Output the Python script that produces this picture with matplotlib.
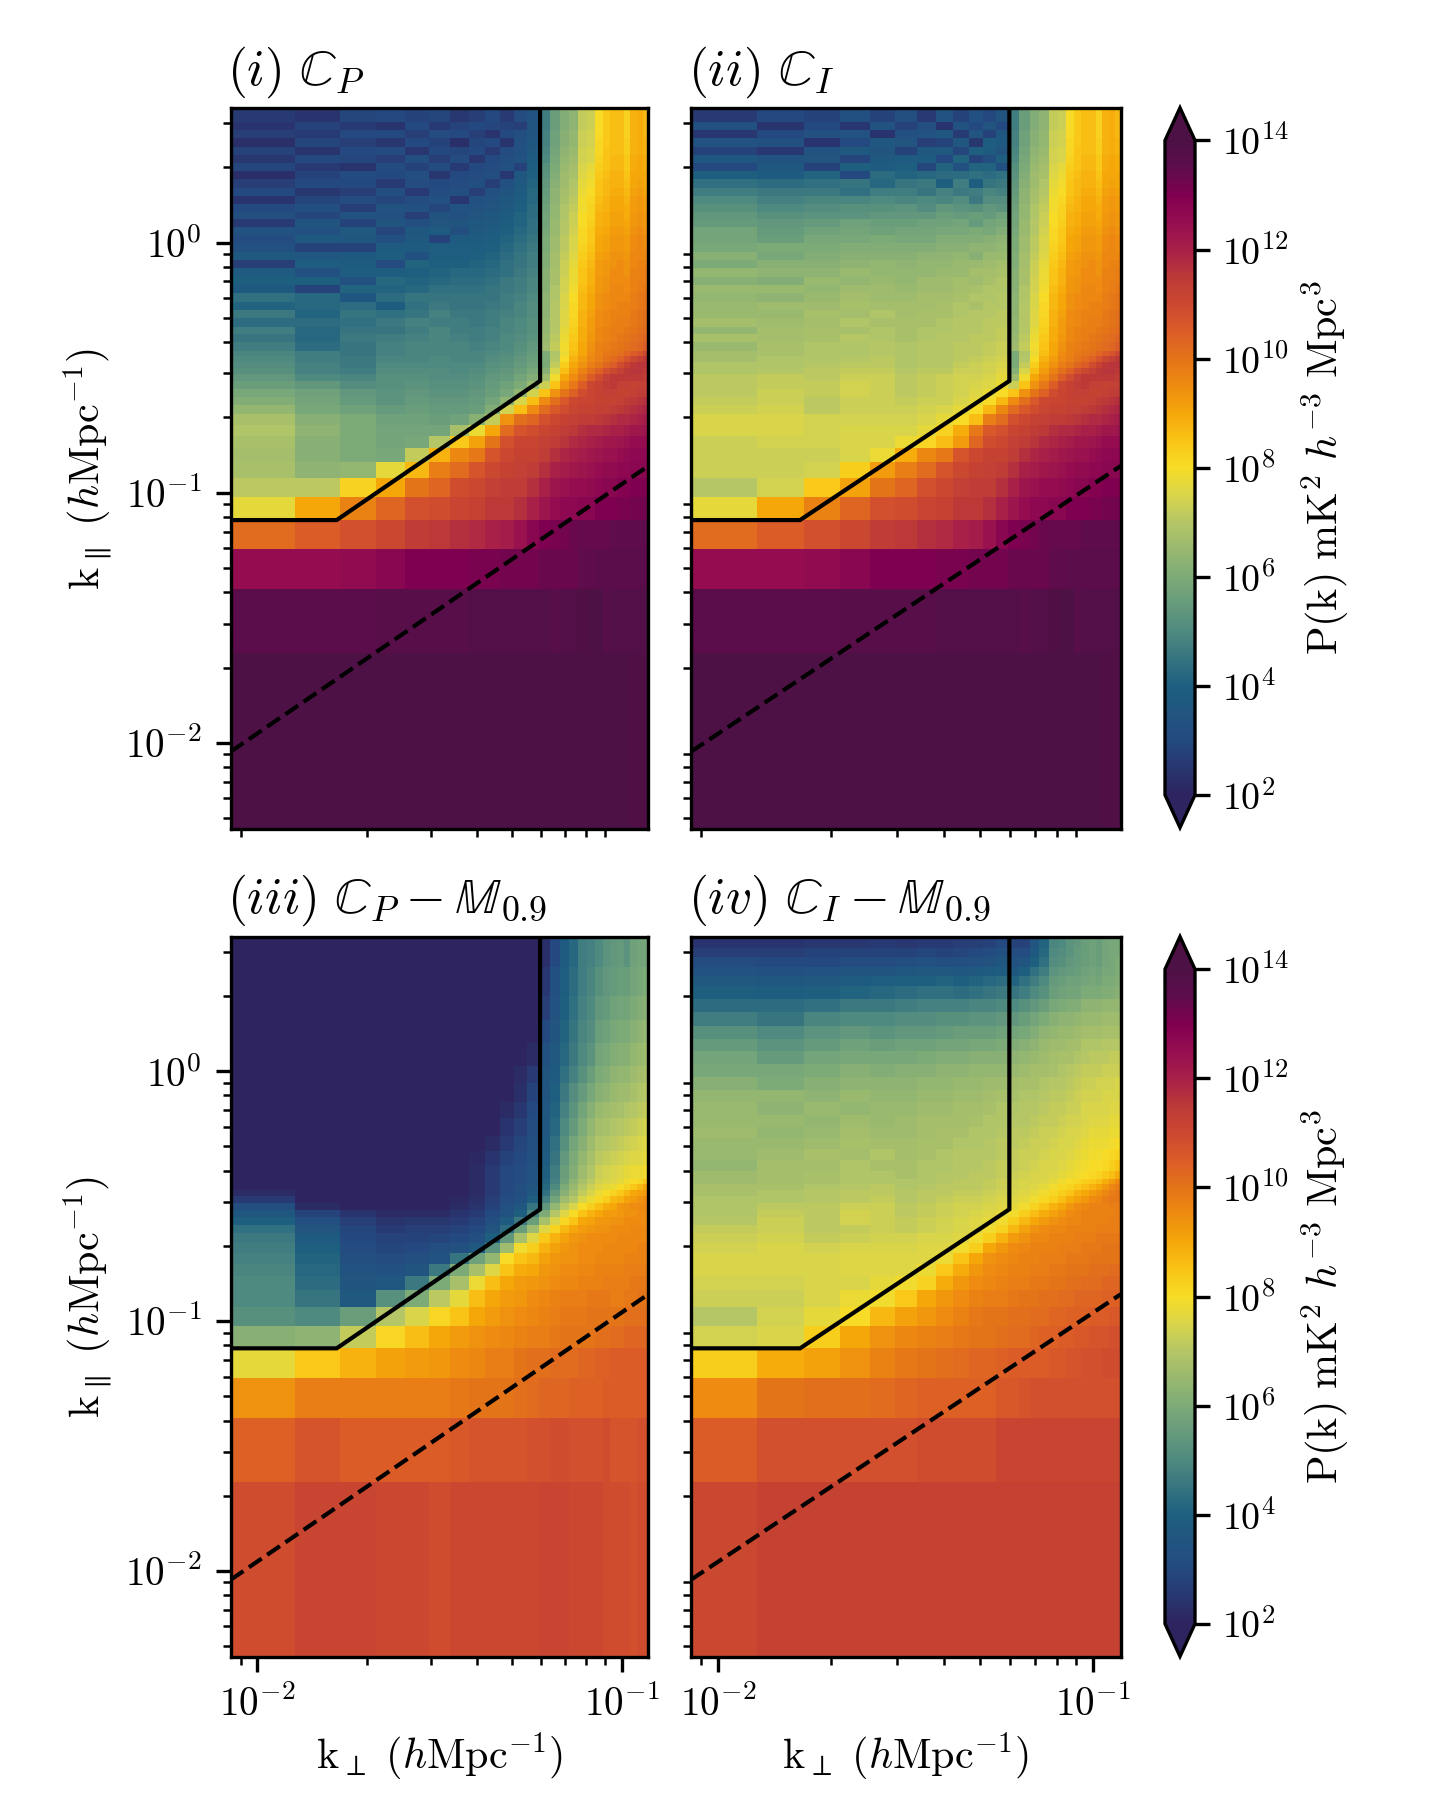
import numpy as np
import matplotlib
matplotlib.use("Agg")
import matplotlib.pyplot as plt
from matplotlib.colors import LinearSegmentedColormap, LogNorm
from matplotlib.ticker import LogLocator, NullFormatter, NullLocator

plt.rcParams['mathtext.fontset'] = 'cm'
plt.rcParams['font.family'] = ['cmr10']
plt.rcParams['axes.formatter.use_mathtext'] = True
plt.rcParams['axes.unicode_minus'] = False

kperp_edges = [0.00845,0.01268,0.0169,0.02113,0.02535,0.02958,0.0338,0.03803,0.04225,0.04648,0.0507,0.05493,0.05915,0.06338,0.0676,0.07183,0.07605,0.08028,0.0845,0.08873,0.09295,0.09718,0.1014,0.10563,0.10985,0.11408,0.1183]
kpar_low_edges = [0.00453,0.0228,0.0411,0.0594,0.0777,0.096,0.1143,0.1326,0.1509,0.1692,0.1875,0.2058,0.2241,0.2424,0.2607,0.279,0.2973,0.3156,0.3339,0.3522,0.3705]
kpar_top_fg = [0.40,0.43,0.46,0.50,0.54,0.58,0.63,0.68,0.73,0.79,0.85,0.92,1.0,1.07,1.15,1.24,1.33,1.43,1.54,1.66,1.79,1.93,2.08,2.24,2.42,2.62,2.82,3.03,3.44]
kpar_top_p3 = [0.42,0.48,0.55,0.65,0.75,0.9,1.05,1.3,1.6,2.0,2.6,3.44]
kpar_top_p4 = [0.40,0.44,0.49,0.54,0.60,0.67,0.75,0.84,0.95,1.07,1.2,1.35,1.52,1.72,1.95,2.2,2.4,2.6,2.85,3.1,3.44]

# log10 P(k) x 10, rows from low k_par to high k_par
fg_bottom = [
[140,140,140,140,140,140,140,140,140,140,140,140,140,140,140,140,140,140,140,140,140,140,140,139,139,139],
[136,136,136,137,137,137,137,138,138,138,138,138,138,137,138,138,139,140,140,137,138,138,138,138,138,138],
[125,125,126,128,130,130,130,131,131,132,132,132,133,133,133,133,135,135,136,136,136,136,136,136,136,136],
[102,105,108,110,114,115,117,118,120,121,124,128,130,131,132,133,134,134,134,134,135,135,135,135,135,135],
[77,90,97,103,108,109,111,112,115,115,117,120,123,125,127,127,128,128,130,130,130,131,131,132,132,132],
]
fg_right_low = [
[120,123,124,125,125,126,127,128,128,129,129,130,130,130],
[117,120,121,122,123,124,125,126,126,127,127,128,128,128],
[114,117,119,120,121,122,123,124,124,125,126,127,127,127],
[113,114,116,118,119,120,121,122,122,123,124,125,125,125],
[111,112,114,115,117,118,118,119,120,120,121,122,122,123],
[108,110,112,113,114,114,115,116,117,118,118,119,120,121],
[102,106,109,111,112,112,113,113,114,115,116,117,118,119],
[95,101,106,110,111,111,112,112,112,113,114,115,116,117],
[85,94,100,104,109,111,112,113,113,112,112,113,114,114],
[73,85,94,99,105,110,112,114,115,113,113,112,113,113],
[66,79,90,95,100,105,109,113,115,115,115,115,115,114],
[62,75,86,92,97,101,104,108,110,113,115,116,116,115],
[60,72,83,90,94,98,100,103,105,109,112,115,116,116],
[60,70,80,88,92,96,98,100,102,104,107,110,113,115],
[60,69,78,86,90,95,97,99,100,101,103,105,107,110],
]
fg_right_top = [
[66,72,79,85,90,94,97,98,99,100,101,102,103,105],
[65,71,78,84,89,93,96,97,98,99,100,101,102,103],
[64,70,77,83,89,92,96,97,98,98,99,100,101,102],
[64,70,76,82,88,92,95,96,97,98,98,99,100,101],
[63,70,76,81,88,91,95,96,97,97,97,99,100,101],
[63,70,75,81,87,90,94,95,96,97,97,98,99,100],
[63,69,75,80,87,90,94,95,96,96,96,98,99,100],
[62,69,74,79,86,89,93,94,96,96,95,97,98,99],
[62,68,74,78,85,88,93,94,95,95,95,97,98,98],
[62,68,73,78,85,88,92,93,95,95,94,97,97,98],
[61,67,73,77,84,87,92,93,94,95,94,96,97,97],
[61,67,72,76,83,86,91,92,94,94,93,96,96,96],
[60,66,71,75,82,85,90,91,93,93,92,95,96,95],
[60,66,71,75,81,84,90,91,93,93,92,95,96,95],
[59,65,70,74,81,84,89,90,92,92,91,94,95,94],
[58,65,70,73,80,83,88,89,91,91,90,93,94,93],
[58,64,69,73,80,82,88,89,91,91,89,93,94,93],
[57,64,69,72,79,82,87,88,90,90,89,92,93,92],
[56,63,68,71,79,81,86,88,90,90,88,92,93,92],
[55,63,67,70,78,80,85,87,89,89,87,91,92,91],
[54,62,66,69,77,79,85,87,88,88,86,90,91,90],
[53,61,66,68,76,78,84,86,88,88,85,90,90,90],
[52,60,65,67,75,77,83,85,87,87,84,89,90,89],
[50,59,64,66,74,75,82,85,87,87,84,89,90,89],
[49,58,63,65,74,75,81,85,86,86,83,88,89,88],
[48,57,62,64,73,74,81,84,86,86,83,88,89,88],
[48,57,62,64,73,74,80,84,86,86,82,88,89,87],
[47,56,61,63,72,73,80,84,86,86,82,88,89,87],
[47,56,61,63,72,73,80,84,86,86,82,88,89,87],
]
p1_left = [
[71,71,82,90,100,103,109,110,113,114,114,117],
[68,63,64,77,87,98,102,107,110,112,113,114],
[67,62,60,59,72,88,96,99,107,110,112,112],
[68,62,60,58,59,70,84,91,100,108,111,111],
[69,63,60,58,58,58,68,78,90,102,107,109],
[68,62,60,57,57,56,57,62,72,94,101,103],
[64,59,57,55,56,55,55,56,61,74,86,95],
[61,58,55,53,55,54,54,55,58,63,75,86],
[59,57,54,53,54,53,53,54,56,59,64,74],
[56,54,51,52,53,52,52,53,55,57,60,65],
[54,50,49,52,52,51,51,52,54,55,58,61],
[52,48,47,51,51,51,50,51,53,54,56,59],
[51,48,46,50,50,50,50,50,52,53,55,57],
[50,47,46,49,49,50,49,49,51,52,54,56],
[49,47,45,48,49,49,49,49,50,51,53,55],
[47,43,45,48,49,49,49,48,49,50,52,54],
[45,42,46,47,48,49,48,47,48,50,51,53],
[47,42,45,45,47,49,47,47,48,49,50,52],
[43,43,44,46,48,47,47,46,47,49,50,52],
[46,41,45,44,45,48,46,46,47,48,49,51],
[41,42,43,39,44,46,45,45,46,47,49,51],
[44,42,36,43,45,45,45,45,45,47,48,50],
[37,28,41,41,42,44,44,44,45,46,47,49],
[40,40,33,42,41,42,43,43,44,46,47,49],
[38,33,39,39,40,41,42,42,43,44,46,48],
[27,39,38,31,41,40,40,41,42,44,45,47],
[37,36,37,39,33,39,39,40,41,43,45,47],
[33,28,28,38,38,39,39,39,40,42,44,46],
[31,37,36,33,37,28,38,38,39,41,43,45],
[34,33,37,29,36,38,32,37,38,40,42,44],
[26,35,28,35,32,35,35,36,37,39,41,44],
[32,29,34,33,27,34,33,35,36,38,41,43],
[30,32,27,34,33,29,34,34,35,37,40,43],
[24,29,31,29,31,33,25,33,34,36,39,42],
[30,25,27,32,26,31,32,27,33,35,38,42],
[27,30,30,26,31,30,31,32,27,33,37,41],
[23,28,31,30,32,25,30,31,32,25,36,40],
[29,26,24,31,28,31,26,30,31,33,28,39],
[25,30,29,27,32,27,31,25,30,32,34,38],
[28,24,30,31,25,30,29,30,26,31,33,37],
[23,29,27,25,30,28,23,29,30,24,33,36],
[27,26,30,30,27,31,30,27,24,30,32,35],
[24,28,26,24,30,26,28,30,29,28,27,35],
[26,24,29,30,28,29,25,27,30,26,31,34],
]
p2_left = [
[70,74,84,91,100,103,108,110,113,114,114,117],
[73,73,74,83,92,98,102,107,110,112,113,114],
[73,73,73,75,78,89,96,99,107,110,112,112],
[73,74,74,75,75,78,81,86,92,103,109,110],
[75,75,74,75,75,75,77,82,89,99,106,108],
[75,75,74,74,74,74,75,77,80,86,98,102],
[73,74,71,73,73,73,74,75,77,80,87,96],
[72,73,71,73,73,72,73,73,75,77,80,87],
[71,73,72,74,73,71,72,73,74,76,78,80],
[71,72,72,74,73,71,72,73,74,75,76,78],
[71,72,71,73,73,71,72,73,74,74,75,77],
[69,70,71,72,72,70,71,71,73,73,74,76],
[69,69,70,71,71,69,70,70,72,73,74,75],
[67,69,69,70,71,69,70,70,71,72,73,74],
[67,68,69,69,70,69,70,70,71,71,72,73],
[65,68,69,69,70,69,70,70,71,71,72,73],
[68,67,68,70,69,68,69,70,70,71,71,72],
[64,67,68,68,69,68,69,69,70,70,71,72],
[67,66,67,69,68,68,68,69,70,70,71,71],
[65,65,68,67,69,67,68,68,69,70,70,71],
[65,66,66,68,67,67,67,68,69,68,70,70],
[64,63,65,67,66,66,67,67,68,69,69,70],
[65,65,64,66,66,65,66,66,67,68,69,69],
[62,61,65,64,65,64,66,66,67,66,68,69],
[64,63,63,65,64,64,64,65,65,67,67,68],
[60,62,62,63,64,63,64,64,65,65,66,67],
[62,59,61,62,62,62,63,63,64,62,65,65],
[59,60,60,61,61,61,61,62,62,63,63,64],
[58,56,59,59,60,59,59,61,61,61,62,63],
[58,55,57,58,57,58,58,59,59,60,59,61],
[55,54,55,57,56,56,57,57,58,55,58,59],
[54,52,53,53,54,54,54,56,55,56,55,57],
[52,50,51,52,52,53,51,54,53,52,54,53],
[50,48,49,49,50,49,50,49,51,46,51,51],
[47,46,46,44,47,47,45,48,46,47,49,48],
[44,43,44,45,42,45,46,40,47,39,45,46],
[40,38,41,30,43,41,42,43,43,44,43,44],
[30,36,28,40,38,40,29,41,33,41,41,33],
[36,34,35,29,37,38,38,30,41,28,32,40],
[28,25,34,37,35,28,36,37,29,40,38,35],
[34,33,24,30,36,35,27,28,36,25,39,37],
[25,30,33,34,24,33,34,36,26,35,28,36],
[33,24,30,25,34,28,32,24,34,30,35,30],
[26,30,28,33,28,32,26,34,28,33,30,35],
]
p3_values = [
[109,111,111,110,110,109,110,110,110,110,110,110,111,111,111,110,110,110,110,109,109,109,109,108,109,109],
[104,107,105,105,105,105,106,107,107,107,107,108,108,109,109,108,108,108,108,109,107,107,107,107,108,108],
[94,98,98,98,98,98,99,100,100,100,101,102,103,103,103,104,104,104,104,105,105,105,105,105,105,105],
[77,84,88,91,92,93,95,96,98,98,100,101,101,102,102,102,103,103,104,104,105,105,105,105,105,105],
[62,63,72,81,86,90,92,94,95,96,97,98,98,99,100,100,100,100,101,101,102,102,103,103,103,103],
[52,50,56,70,75,81,85,90,92,94,95,96,97,98,99,99,99,100,100,100,100,100,101,101,101,101],
[50,45,37,52,60,71,77,86,90,92,93,95,96,97,98,98,98,99,99,99,98,98,99,99,100,100],
[50,43,35,36,46,60,68,78,86,90,92,93,94,95,96,96,97,97,97,98,98,98,98,99,99,99],
[49,42,34,33,35,46,60,68,76,85,89,90,93,94,95,95,96,96,97,97,97,97,98,98,98,98],
[48,41,32,31,32,34,45,57,64,80,85,87,91,93,94,94,95,95,96,96,96,96,97,97,97,97],
[47,40,31,29,30,32,33,37,53,66,79,83,88,91,93,94,95,95,95,96,96,96,96,96,97,97],
[46,38,30,28,28,29,30,32,40,54,68,76,84,88,91,93,94,95,95,95,95,96,96,96,96,96],
[44,35,29,26,27,27,28,30,35,43,56,66,76,82,87,90,92,93,94,94,95,95,95,96,96,96],
[40,32,27,24,25,25,26,28,32,38,46,56,68,75,81,85,90,91,93,93,94,94,95,95,95,95],
[36,28,24,22,22,22,24,26,30,34,40,49,60,70,76,80,85,88,90,92,92,93,94,94,95,95],
[32,22,20,20,20,20,22,24,28,33,36,45,54,64,71,75,80,83,86,89,90,93,94,95,95,96],
[26,20,20,20,20,20,21,23,27,31,33,40,48,58,66,70,75,78,81,83,87,88,91,92,94,95],
[22,20,20,20,20,20,20,22,26,30,32,36,44,54,62,67,72,75,78,80,82,84,87,90,91,92],
[20,20,20,20,20,20,20,22,26,30,32,35,42,50,60,65,70,73,76,77,78,80,82,84,87,90],
[20,20,20,20,20,20,20,22,26,30,31,34,41,48,57,63,68,71,74,75,76,77,79,80,81,84],
[20,20,20,20,20,20,20,22,26,30,31,34,40,47,56,61,66,69,73,74,75,76,77,78,78,79],
[20,20,20,20,20,20,20,21,24,28,30,33,38,45,54,60,64,68,71,72,73,74,75,76,76,77],
[20,20,20,20,20,20,20,20,22,26,29,32,37,44,52,58,62,66,69,70,71,72,73,74,75,76],
[20,20,20,20,20,20,20,20,20,24,27,31,36,42,50,55,60,64,67,68,69,70,71,72,73,74],
[20,20,20,20,20,20,20,20,20,22,25,30,36,41,48,53,58,62,65,66,67,68,69,70,71,72],
[20,20,20,20,20,20,20,20,20,20,23,28,35,40,46,51,55,59,62,63,65,66,66,68,69,70],
[20,20,20,20,20,20,20,20,20,20,22,26,35,38,44,48,52,56,60,61,63,64,64,66,67,68],
[20,20,20,20,20,20,20,20,20,20,20,22,33,37,42,46,50,53,58,59,61,62,62,64,65,66],
[20,20,20,20,20,20,20,20,20,20,20,20,30,35,41,45,49,51,56,57,59,60,60,62,63,64],
[20,20,20,20,20,20,20,20,20,20,20,20,27,34,40,44,48,50,54,55,57,58,58,60,61,62],
[20,20,20,20,20,20,20,20,20,20,20,20,25,33,39,43,47,49,52,54,55,56,56,58,59,60],
[20,20,20,20,20,20,20,20,20,20,20,20,23,30,38,42,47,48,50,53,54,55,53,57,58,58],
]
p4_values = [
[110,112,112,112,112,112,112,112,112,112,112,112,112,112,112,112,112,112,112,112,112,112,112,112,112,112],
[105,108,108,108,108,108,109,109,109,109,109,111,111,111,111,111,111,111,111,111,111,111,111,111,111,111],
[95,100,101,101,102,103,104,104,104,104,104,106,106,107,108,108,108,108,108,108,108,108,108,108,108,108],
[83,89,91,94,97,99,100,101,102,103,103,104,105,105,105,105,106,106,107,107,108,108,108,109,109,109],
[74,75,83,90,94,96,97,98,99,100,100,101,102,102,103,104,104,105,105,106,106,107,107,107,108,108],
[70,74,77,80,87,91,93,95,97,99,100,100,101,101,102,102,103,103,104,104,104,105,105,105,106,106],
[73,73,75,78,79,84,90,93,95,97,98,98,99,100,100,101,101,102,102,103,103,103,103,104,104,104],
[74,74,75,75,77,79,82,89,93,95,96,97,98,98,99,99,100,100,101,101,102,102,102,103,103,103],
[75,75,75,76,76,76,78,84,89,93,95,96,97,97,98,98,99,99,100,100,100,101,101,101,102,102],
[75,75,75,76,76,76,76,78,85,90,94,95,96,97,97,98,98,98,99,99,99,100,100,100,100,100],
[74,75,74,75,75,75,76,76,79,83,90,93,95,96,97,97,97,98,98,98,99,99,99,100,100,100],
[73,74,72,73,74,74,75,75,76,79,83,88,92,94,96,96,97,97,97,98,98,98,99,99,99,99],
[72,73,71,72,73,72,73,74,75,76,79,82,87,91,94,95,96,96,97,97,97,97,98,98,98,98],
[70,73,71,74,73,72,73,74,75,76,77,79,83,87,90,92,94,95,96,96,97,97,97,97,98,98],
[69,72,71,74,73,71,72,73,74,75,76,77,79,83,86,89,91,93,95,96,97,97,97,97,97,98],
[69,71,71,73,73,71,72,73,74,74,75,76,77,79,82,85,88,90,93,95,96,97,97,97,98,98],
[69,69,70,71,72,70,71,72,73,73,74,75,76,77,79,81,83,86,89,91,93,95,96,98,99,99],
[68,69,70,71,71,70,71,71,72,72,73,74,75,76,77,79,81,83,85,88,90,92,94,96,98,99],
[68,68,69,70,71,69,70,71,71,71,72,73,74,75,76,77,79,81,82,84,86,88,90,93,96,98],
[66,67,68,69,69,69,69,70,71,71,72,73,74,75,75,76,77,79,80,81,83,84,86,89,92,95],
[66,67,68,69,69,68,69,70,70,71,71,72,73,74,75,75,76,77,78,79,80,81,82,84,86,89],
[64,67,67,69,68,68,69,69,70,70,71,72,72,73,74,75,75,76,77,78,79,80,80,81,83,85],
[65,66,68,67,69,67,68,69,70,70,70,71,72,73,73,74,75,75,76,77,78,79,79,80,81,82],
[65,65,66,68,67,67,68,68,69,69,70,71,71,72,73,73,74,75,75,76,77,78,78,78,79,80],
[66,64,65,67,66,66,67,68,68,69,69,70,71,71,72,73,73,74,75,75,76,77,77,77,78,78],
[65,65,64,66,65,66,67,67,67,68,69,69,70,70,71,72,72,73,74,74,75,76,76,76,77,77],
[65,63,65,64,65,65,66,66,67,67,68,69,69,70,70,71,72,72,73,73,75,75,75,75,76,76],
[64,64,63,65,64,64,65,65,66,66,67,68,68,69,69,70,71,71,72,73,74,74,74,75,75,75],
[62,60,62,63,63,63,64,64,65,65,66,66,67,68,68,69,70,70,71,72,73,73,74,74,74,75],
[59,59,60,62,61,62,62,63,63,64,64,64,65,66,67,67,68,69,70,71,72,72,72,73,73,73],
[58,55,58,59,59,59,60,61,61,62,62,62,63,64,65,66,67,68,68,69,70,71,71,71,72,72],
[55,53,55,57,56,57,57,58,58,59,59,60,61,62,63,65,66,66,67,67,69,69,69,70,70,70],
[52,50,53,54,53,54,54,55,56,56,56,57,58,59,61,63,64,65,65,66,67,67,67,68,68,68],
[47,45,49,50,50,51,51,52,52,53,53,54,54,56,58,60,62,63,63,64,65,65,65,66,66,66],
[43,43,44,46,46,47,48,48,48,49,49,50,50,52,54,56,59,60,61,61,63,63,63,64,64,64],
[40,39,40,41,42,43,44,44,43,44,45,46,45,47,50,52,56,57,58,58,60,60,60,61,61,62],
[37,36,37,38,39,40,40,41,40,41,42,43,41,44,47,50,55,56,57,57,58,59,58,60,60,61],
[34,33,34,35,35,36,37,37,36,37,38,39,36,40,44,47,53,54,55,56,57,58,57,59,59,60],
[31,30,30,31,31,32,33,32,32,33,34,36,33,35,40,44,51,52,54,55,56,57,56,58,59,60],
[27,27,28,28,28,28,29,28,29,30,31,33,31,31,37,42,50,51,53,55,56,57,56,58,59,59],
[24,24,25,25,26,25,26,26,27,27,28,30,28,28,35,41,49,50,53,54,56,57,56,58,59,59],
]

horizon_kperp = [0.00845, 0.01651, 0.0597, 0.0597]
horizon_kpar = [0.0778, 0.0778, 0.28, 3.44]
wedge_kperp = [0.00845, 0.1183]
wedge_kpar = [0.00923, 0.128]

titles = [r'$(i)\ \mathbb{C}_P$', r'$(ii)\ \mathbb{C}_I$',
          r'$(iii)\ \mathbb{C}_P - \mathbb{M}_{0.9}$', r'$(iv)\ \mathbb{C}_I - \mathbb{M}_{0.9}$']
ylabel = r'$\mathrm{k}_{\parallel}\ (h\mathrm{Mpc}^{-1})$'
xlabel = r'$\mathrm{k}_{\perp}\ (h\mathrm{Mpc}^{-1})$'
cbar_label = r'$\mathrm{P(k)\ mK}^2\ h^{-3}\ \mathrm{Mpc}^3$'
cbar_ticks = [1e2, 1e4, 1e6, 1e8, 1e10, 1e12, 1e14]

cmap_levels = [2, 3, 4, 5, 6, 7, 7.5, 8, 8.5, 9, 9.5, 10, 10.5, 11, 11.5, 12, 12.5, 13, 13.5, 14]
cmap_colors = ['#2d2460', '#244a80', '#1e5f80', '#4f8a80', '#7dab78', '#b5c666', '#d9d54a', '#f7dc26', '#f9c416',
               '#f5a70a', '#ee8c10', '#e47418', '#dc5c28', '#cc4830', '#bc3a38', '#a82048', '#960e50', '#800050',
               '#5e0c4c', '#4d1145']
cmap = LinearSegmentedColormap.from_list(
    'pk', [((l - 2) / 12, c) for l, c in zip(cmap_levels, cmap_colors)], N=512)
norm = LogNorm(1e2, 1e14)

W, H = 1440, 1800
fig = plt.figure(figsize=(4.8, 6.0), dpi=300)


def box(x0, x1, y0, y1):
    return [x0 / W, 1 - y1 / H, (x1 - x0) / W, (y1 - y0) / H]


p1 = np.vstack([fg_bottom, np.hstack([p1_left, np.vstack([fg_right_low, fg_right_top])])])
p2 = np.vstack([fg_bottom, np.hstack([p2_left, np.vstack([fg_right_low, fg_right_top])])])
panels = [
    (p1, kpar_top_fg, box(230.7, 648.3, 108.4, 829)),
    (p2, kpar_top_fg, box(691, 1120.7, 108.4, 829)),
    (np.array(p3_values), kpar_top_p3, box(230.7, 648.3, 937, 1657)),
    (np.array(p4_values), kpar_top_p4, box(691, 1120.7, 937, 1657)),
]

mesh = None
for i, (vals, top_edges, rect) in enumerate(panels):
    ax = fig.add_axes(rect)
    edges = kpar_low_edges + top_edges
    mesh = ax.pcolormesh(kperp_edges, edges, 10.0 ** (np.asarray(vals) / 10.0), cmap=cmap, norm=norm,
                         shading='flat', antialiased=False, linewidth=0, rasterized=True)
    ax.plot(horizon_kperp, horizon_kpar, color='k', lw=1.0, solid_joinstyle='miter')
    ax.plot(wedge_kperp, wedge_kpar, color='k', lw=1.0, ls='--')
    ax.set_xscale('log')
    ax.set_yscale('log')
    ax.set_xlim(kperp_edges[0], kperp_edges[-1])
    ax.set_ylim(kpar_low_edges[0], 3.44)
    for axis in (ax.xaxis, ax.yaxis):
        axis.set_major_locator(LogLocator(base=10, numticks=20))
        axis.set_minor_locator(LogLocator(base=10, subs=np.arange(2, 10), numticks=20))
        axis.set_minor_formatter(NullFormatter())
    ax.tick_params(axis='both', which='major', labelsize=9.4, pad=3.5)
    ax.set_title(titles[i], loc='left', x=-0.008, fontsize=12.3, pad=5.8)
    if i < 2:
        ax.tick_params(axis='x', which='major', length=0, labelbottom=False)
    else:
        ax.set_xlabel(xlabel, fontsize=10.1, labelpad=1.5)
    if i % 2 == 1:
        ax.tick_params(axis='y', which='major', length=0, labelleft=False)
    else:
        ax.set_ylabel(ylabel, fontsize=10.1, labelpad=2.5)

for y0, y1 in ((107.7, 827.7), (936.5, 1656.5)):
    cax = fig.add_axes(box(1165, 1195, y0, y1))
    cb = fig.colorbar(mesh, cax=cax, extend='both', extendfrac=0.05, ticks=cbar_ticks)
    cb.ax.yaxis.set_minor_locator(NullLocator())
    cb.ax.tick_params(labelsize=9.1, pad=3)
    cb.set_label(cbar_label, fontsize=10.1, labelpad=2.5)

fig.savefig('out.png', dpi=300)
